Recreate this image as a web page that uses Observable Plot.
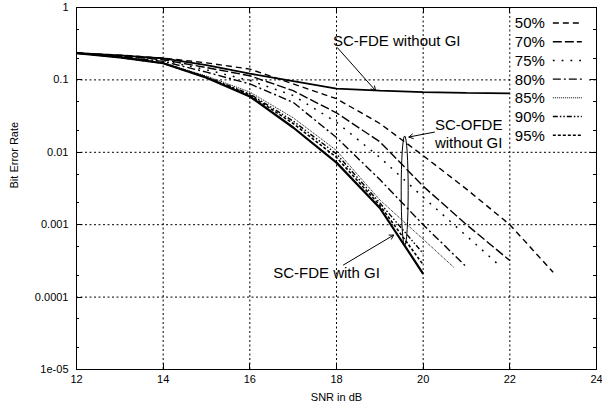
<!DOCTYPE html>
<html><head><meta charset="utf-8">
<script src="https://cdn.jsdelivr.net/npm/d3@7"></script>
<script src="https://cdn.jsdelivr.net/npm/@observablehq/plot@0.6"></script>
<style>
body{margin:0;background:#fff;}
#chart{width:602px;height:412px;overflow:hidden;}
</style></head><body><div id="chart"></div>
<script>
// ---- data ----
const snr_noGI = [12,13,14,15,16,17,18,19,20,21,22];
const ber_noGI = [0.235,0.218,0.198,0.16,0.122,0.096,0.076,0.071,0.068,0.066,0.065];
const snr_GI = [12,13,14,15,16,17,18,19,20];
const ber_GI = [0.235,0.205,0.17,0.107,0.059,0.022,0.0072,0.0017,0.00021];
const snr_50 = [12,13,14,15,16,17,18,19,20,21,22,23];
const ber_50 = [0.235,0.22,0.2,0.172,0.141,0.088,0.055,0.025,0.009,0.0031,0.001,0.00022];
const snr_70 = [12,13,14,15,16,17,18,19,20,21,22];
const ber_70 = [0.235,0.215,0.19,0.148,0.114,0.071,0.035,0.014,0.0034,0.001,0.00032];
const snr_75 = [12,13,14,15,16,17,18,19,20,21,21.8];
const ber_75 = [0.235,0.212,0.185,0.138,0.098,0.061,0.026,0.0085,0.0024,0.0007,0.00026];
const snr_80 = [12,13,14,15,16,17,18,19,20,21];
const ber_80 = [0.235,0.21,0.18,0.128,0.088,0.049,0.016,0.0042,0.001,0.00026];
const snr_85 = [12,13,14,15,16,17,18,19,20,20.7];
const ber_85 = [0.235,0.207,0.172,0.113,0.068,0.03,0.0106,0.0022,0.00063,0.00026];
const snr_90 = [12,13,14,15,16,17,18,19,20];
const ber_90 = [0.235,0.206,0.171,0.11,0.064,0.027,0.0095,0.002,0.0004];
const snr_95 = [12,13,14,15,16,17,18,19,20];
const ber_95 = [0.235,0.205,0.17,0.108,0.062,0.025,0.0085,0.00185,0.00028];

const legendLabels = ["50%","70%","75%","80%","85%","90%","95%"];
const xTicks = [12,14,16,18,20,22,24];
const yTicks = [1,0.1,0.01,0.001,0.0001,0.00001];
const yTickLabels = ["1","0.1","0.01","0.001","0.0001","1e-05"];
const yMinorTicks = [0.5,0.2,0.05,0.02,0.005,0.002,0.0005,0.0002,0.00005,0.00002];
const xLabel = "SNR in dB";
const yLabel = "Bit Error Rate";

// annotations (data coordinates)
const annNoGI = {text:"SC-FDE without GI", tx:19.39, ty:0.338, x1:18.02, y1:0.279, x2:18.9, y2:0.0714};
const annOFDE = {text1:"SC-OFDE", text2:"without GI", tx:21.05, ty1:0.0236, ty2:0.0132, x1:20.26, y1:0.019, x2:19.67, y2:0.01625};
const ellipseOFDE = {snr:19.585, berTop:0.01656, berBottom:0.000507};
const annGI = {text:"SC-FDE with GI", tx:17.77, ty:0.000217, x1:18.16, y1:0.000278, x2:19.32, y2:0.000719};

// ---- styles ----
const series = [
  {name:"noGI", snr:snr_noGI, ber:ber_noGI, dash:null, w:1.8},
  {name:"50%", snr:snr_50, ber:ber_50, dash:"6,4", w:1.4},
  {name:"70%", snr:snr_70, ber:ber_70, dash:"9,3", w:1.4},
  {name:"75%", snr:snr_75, ber:ber_75, dash:"1.8,7", w:1.5},
  {name:"80%", snr:snr_80, ber:ber_80, dash:"8,3,2,3", w:1.4},
  {name:"85%", snr:snr_85, ber:ber_85, dash:"1,1", w:1},
  {name:"90%", snr:snr_90, ber:ber_90, dash:"5,2,1.5,2,1.5,2", w:1.4},
  {name:"95%", snr:snr_95, ber:ber_95, dash:"3,2", w:1.6},
  {name:"GI", snr:snr_GI, ber:ber_GI, dash:null, w:2.2}
];
const rowsOf = s => s.snr.map((x,i)=>({snr:x, ber:s.ber[i]}));

const labelMap = new Map(yTicks.map((d,i)=>[d, yTickLabels[i]]));
const gridStyle = {stroke:"#000", strokeOpacity:1, strokeWidth:1, strokeDasharray:"2,2.5"};
const font = "'Liberation Sans', Arial, Helvetica, sans-serif";

const marks = [
  Plot.gridY(yTicks.slice(1,-1), gridStyle),
  Plot.gridX(xTicks.slice(1,-1), gridStyle),
];
for (const s of series) {
  marks.push(Plot.line(rowsOf(s), {x:"snr", y:"ber", stroke:"#000", strokeWidth:s.w,
    strokeDasharray: s.dash || undefined, strokeLinejoin:"miter", strokeLinecap:"butt"}));
}
marks.push(
  Plot.frame({stroke:"#000", strokeWidth:1}),
  // tick labels
  Plot.axisY(yTicks, {anchor:"left", tickSize:0, tickPadding:8, tickFormat:d=>labelMap.get(d), label:null, fontSize:11}),
  Plot.axisX(xTicks, {anchor:"bottom", tickSize:0, tickPadding:6, tickFormat:d=>String(d), label:null, fontSize:11}),
  // axis titles
  Plot.text([xLabel], {frameAnchor:"bottom", dy:31, text:d=>d, fontSize:11}),
  Plot.text([yLabel], {frameAnchor:"left", dx:-62, rotate:-90, text:d=>d, fontSize:11}),
  // annotations
  Plot.arrow([annNoGI, annOFDE, annGI], {x1:"x1", y1:"y1", x2:"x2", y2:"y2", stroke:"#000", strokeWidth:1, headLength:7}),
  Plot.text([annNoGI], {x:"tx", y:"ty", text:"text", fontSize:15}),
  Plot.text([annOFDE], {x:"tx", y:"ty1", text:"text1", fontSize:15}),
  Plot.text([annOFDE], {x:"tx", y:"ty2", text:"text2", fontSize:15}),
  Plot.text([annGI], {x:"tx", y:"ty", text:"text", fontSize:15})
);

const plot = Plot.plot({
  width:602, height:412,
  marginLeft:76, marginRight:6, marginTop:7, marginBottom:43,
  style:{fontFamily:font, fontSize:"11px", background:"#fff", color:"#000"},
  x:{domain:[12,24], label:null},
  y:{type:"log", domain:[1e-5,1], label:null},
  marks
});
document.getElementById("chart").appendChild(plot);

// ---- inward ticks, ellipse annotation & key, drawn with the plot's scales ----
const sx = plot.scale("x"), sy = plot.scale("y");
const svg = d3.select(plot);
const L = sx.apply(12), R = sx.apply(24), T = sy.apply(1), B = sy.apply(1e-5);
const tg = svg.append("g").attr("stroke","#000").attr("stroke-width",1).attr("shape-rendering","crispEdges");
const tick = (x1,y1,x2,y2) => tg.append("line").attr("x1",x1).attr("y1",y1).attr("x2",x2).attr("y2",y2);
for (const t of yTicks) { const y = Math.round(sy.apply(t))+0.5; tick(L,y,L+6,y); tick(R-6,y,R,y); }
for (const t of yMinorTicks) { const y = Math.round(sy.apply(t))+0.5; tick(L,y,L+3,y); tick(R-3,y,R,y); }
for (const t of xTicks) { const x = Math.round(sx.apply(t))+0.5; tick(x,B,x,B-6); tick(x,T,x,T+6); }

const cy1 = sy.apply(ellipseOFDE.berTop), cy2 = sy.apply(ellipseOFDE.berBottom);
svg.append("ellipse")
  .attr("cx", sx.apply(ellipseOFDE.snr)).attr("cy", (cy1+cy2)/2)
  .attr("rx", 3.5).attr("ry", (cy2-cy1)/2)
  .attr("fill","none").attr("stroke","#000").attr("stroke-width",1);

// key (opaque area in the upper right of the frame)
const x22 = sx.apply(22);
const key = svg.append("g");
key.append("rect").attr("x", x22+1.5).attr("y", T+1).attr("width", R-x22-8.5).attr("height", 136).attr("fill","#fff");
const keySeries = series.filter(s=>legendLabels.includes(s.name));
keySeries.forEach((s,i)=>{
  const cy = T + 16 + i*18.7;
  key.append("text").attr("x", x22+5.5).attr("y", cy).attr("dy","0.36em").attr("text-anchor","start")
    .attr("font-size",15).attr("font-family",font).attr("fill","#000").text(s.name);
  key.append("line").attr("x1", x22+43.5).attr("x2", x22+72.5).attr("y1", cy).attr("y2", cy)
    .attr("stroke","#000").attr("stroke-width", s.w).attr("stroke-dasharray", s.dash || null);
});
</script>
</body></html>
